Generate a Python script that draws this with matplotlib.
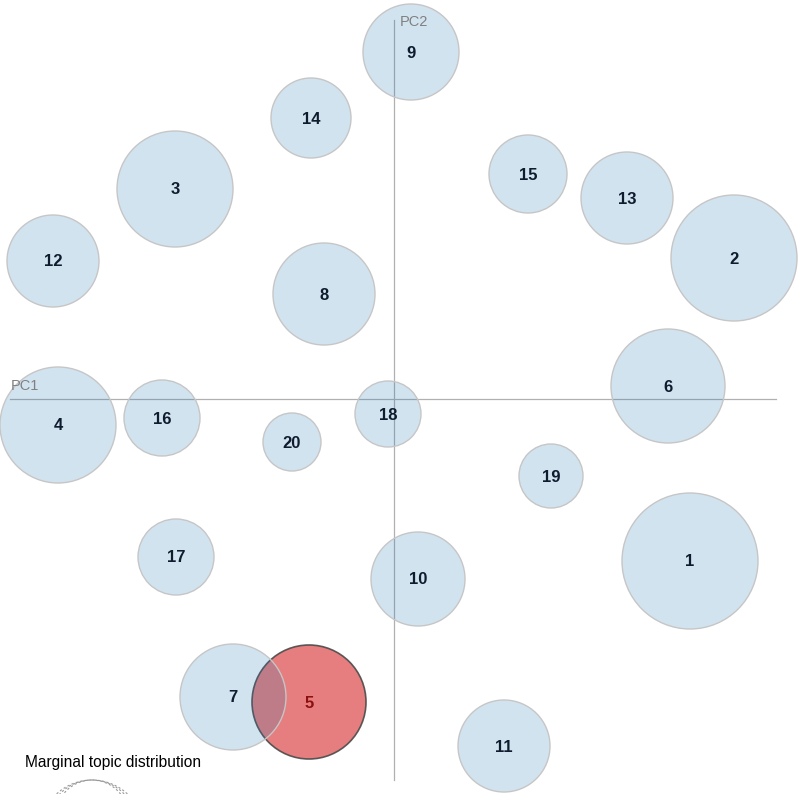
import matplotlib
matplotlib.use("Agg")
import matplotlib.pyplot as plt
from matplotlib.patches import Circle

# topic coordinates on PC1/PC2 (arbitrary units) and circle radii (marginal size)
topics = [str(i) for i in range(1, 21)]
pc1 = [296, 340, -219, -336, -85, 274, -161, -70, 17, 24, 110, -341, 233, -83, 134, -232, -218, -6, 157, -102]
pc2 = [-162, 141, 210, -26, -303, 13, -298, 105, 347, -180, -347, 138, 201, 281, 225, -19, -158, -15, -77, -43]
radius = [68, 63, 58, 58, 57, 57, 53, 51, 48, 47, 46, 46, 46, 40, 39, 38, 38, 33, 32, 29]
selected = "5"

W, H = 799, 794
ox, oy = 394, 399

fig = plt.figure(figsize=(W / 100, H / 100), dpi=100)
ax = fig.add_axes([0, 0, 1, 1])
ax.set_xlim(-ox, W - ox)
ax.set_ylim(oy - H, oy)
ax.set_aspect("equal")
ax.axis("off")

font = ["Liberation Sans", "DejaVu Sans"]

# axes lines
ax.plot([-384, 382], [0, 0], color="#b0b0b0", lw=0.9, zorder=1)
ax.plot([0, 0], [-381, 379], color="#b0b0b0", lw=0.9, zorder=1)
ax.text(-383, 6, "PC1", color="#808080", fontsize=10.5, family=font, ha="left", va="bottom", zorder=5)
ax.text(6, 384, "PC2", color="#808080", fontsize=10.5, family=font, ha="left", va="top", zorder=5)

for i in range(len(topics)):
    if topics[i] == selected:
        ax.add_patch(Circle((pc1[i], pc2[i]), radius[i], facecolor="#d62728", alpha=0.6,
                            edgecolor="none", zorder=2))
        ax.add_patch(Circle((pc1[i], pc2[i]), radius[i], facecolor="none",
                            edgecolor="#4a4a4a", lw=1.2, alpha=0.9, zorder=2))
    else:
        ax.add_patch(Circle((pc1[i], pc2[i]), radius[i], facecolor="#1f77b4", alpha=0.2,
                            edgecolor="none", zorder=2))
        ax.add_patch(Circle((pc1[i], pc2[i]), radius[i], facecolor="none",
                            edgecolor="#c6c6c6", lw=1.0, zorder=2))

for i in range(len(topics)):
    col = "#8b1010" if topics[i] == selected else "#0f1c2e"
    ax.text(pc1[i], pc2[i] - 1, topics[i], color=col, fontsize=12, fontweight="bold",
            family=font, ha="center", va="center", zorder=6)

# legend: marginal topic distribution
ax.text(-369, -363, "Marginal topic distribution", color="black", fontsize=11.2,
        family=font, ha="left", va="center", zorder=6)
for r in [36, 44, 52]:
    ax.add_patch(Circle((-302, -381 - r), r, facecolor="none", edgecolor="#999999",
                        lw=0.8, ls=(0, (2, 2)), zorder=2))

fig.savefig("out.png", dpi=100)
